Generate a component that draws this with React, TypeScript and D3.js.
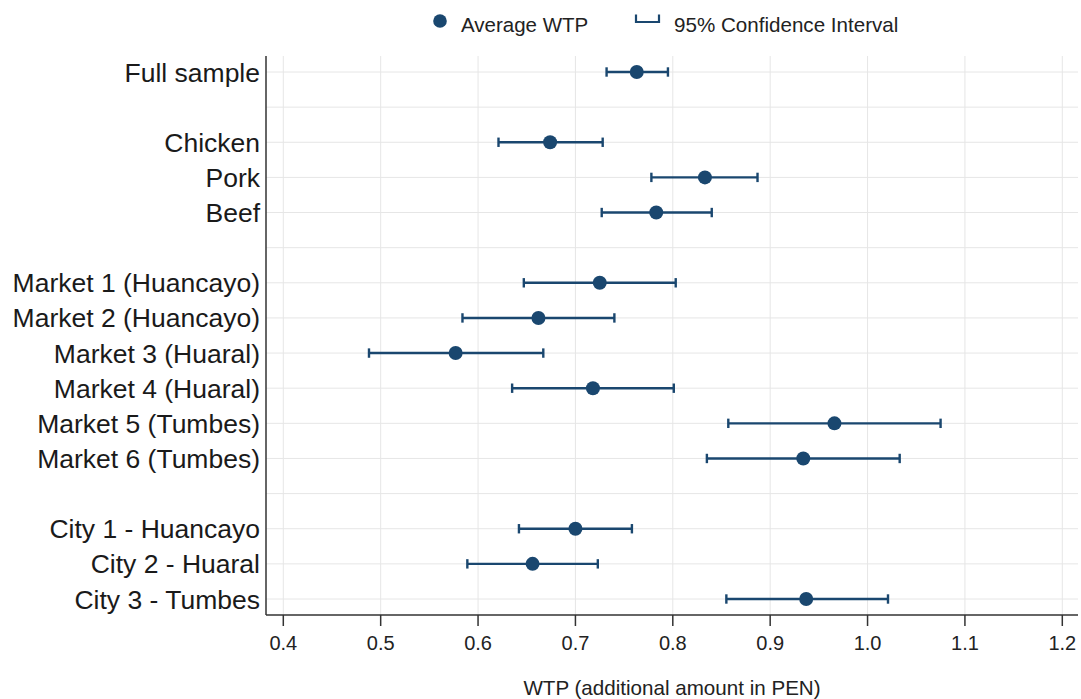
import React from "react";
import * as d3 from "d3";

const rowLabels = [
  "Full sample", "", "Chicken", "Pork", "Beef", "",
  "Market 1 (Huancayo)", "Market 2 (Huancayo)", "Market 3 (Huaral)", "Market 4 (Huaral)",
  "Market 5 (Tumbes)", "Market 6 (Tumbes)", "",
  "City 1 - Huancayo", "City 2 - Huaral", "City 3 - Tumbes",
];
// null for spacer rows
const meanWTP: (number | null)[] = [0.763, null, 0.674, 0.833, 0.783, null, 0.725, 0.662, 0.577, 0.718, 0.966, 0.934, null, 0.700, 0.656, 0.937];
const ciLow: (number | null)[] = [0.732, null, 0.621, 0.778, 0.727, null, 0.647, 0.584, 0.488, 0.635, 0.857, 0.835, null, 0.642, 0.589, 0.855];
const ciHigh: (number | null)[] = [0.795, null, 0.728, 0.887, 0.840, null, 0.803, 0.740, 0.667, 0.801, 1.075, 1.033, null, 0.758, 0.723, 1.021];
const xTicks = [0.4, 0.5, 0.6, 0.7, 0.8, 0.9, 1.0, 1.1, 1.2];

const W = 1081, H = 699;
const plotLeft = 266, plotRight = 1078, plotTop = 56, plotBottom = 615;
const navy = "#1a476f";
const font = "'Liberation Sans', Arial, Helvetica, sans-serif";

export default function App() {
  const x = d3.scaleLinear().domain([0.4, 1.2]).range([283.3, 1062.3]);
  const keys = rowLabels.map((_, i) => String(i));
  const y = d3.scalePoint<string>().domain(keys).range([72, 599]);

  return (
    <svg width={W} height={H} style={{ position: "absolute", left: 0, top: 0, background: "#fff" }} fontFamily={font}>
      <rect x={0} y={0} width={W} height={H} fill="#fff" />
      {/* grid */}
      {xTicks.map((t) => (
        <line key={"gx" + t} x1={x(t)} x2={x(t)} y1={plotTop} y2={plotBottom} stroke="#e6e6e6" strokeWidth={1} />
      ))}
      {keys.map((k) => (
        <line key={"gy" + k} x1={plotLeft} x2={plotRight} y1={y(k)!} y2={y(k)!} stroke="#e6e6e6" strokeWidth={1} />
      ))}
      {/* axes */}
      <line x1={plotLeft} x2={plotLeft} y1={plotTop} y2={plotBottom} stroke="#333" strokeWidth={1.5} />
      <line x1={plotLeft} x2={plotRight} y1={plotBottom} y2={plotBottom} stroke="#333" strokeWidth={1.5} />
      {xTicks.map((t) => (
        <g key={"t" + t}>
          <line x1={x(t)} x2={x(t)} y1={plotBottom} y2={plotBottom + 11} stroke="#333" strokeWidth={1.5} />
          <text x={x(t)} y={650} textAnchor="middle" fontSize={20} fill="#222">{d3.format(".1f")(t)}</text>
        </g>
      ))}
      {/* y labels */}
      {rowLabels.map((lab, i) => lab ? (
        <text key={"l" + i} x={260} y={y(keys[i])!} dy="0.36em" textAnchor="end" fontSize={26.5} fill="#1a1a1a">{lab}</text>
      ) : null)}
      {/* marks */}
      {rowLabels.map((_, i) => {
        const m = meanWTP[i], lo = ciLow[i], hi = ciHigh[i];
        if (m == null || lo == null || hi == null) return null;
        const cy = y(keys[i])!;
        return (
          <g key={"m" + i}>
            <line x1={x(lo)} x2={x(hi)} y1={cy} y2={cy} stroke={navy} strokeWidth={2.4} />
            <line x1={x(lo)} x2={x(lo)} y1={cy - 4.7} y2={cy + 4.7} stroke={navy} strokeWidth={2.4} />
            <line x1={x(hi)} x2={x(hi)} y1={cy - 4.7} y2={cy + 4.7} stroke={navy} strokeWidth={2.4} />
            <circle cx={x(m)} cy={cy} r={7} fill={navy} />
          </g>
        );
      })}
      {/* legend */}
      <circle cx={440} cy={21} r={6.8} fill={navy} />
      <text x={461} y={32} fontSize={20.5} fill="#222">Average WTP</text>
      <path d="M636,14.5 V22 H659 V14.5" fill="none" stroke={navy} strokeWidth={2.2} />
      <text x={674} y={32} fontSize={20.6} fill="#222">95% Confidence Interval</text>
      {/* x title */}
      <text x={672} y={695} textAnchor="middle" fontSize={20.6} fill="#222">WTP (additional amount in PEN)</text>
    </svg>
  );
}
